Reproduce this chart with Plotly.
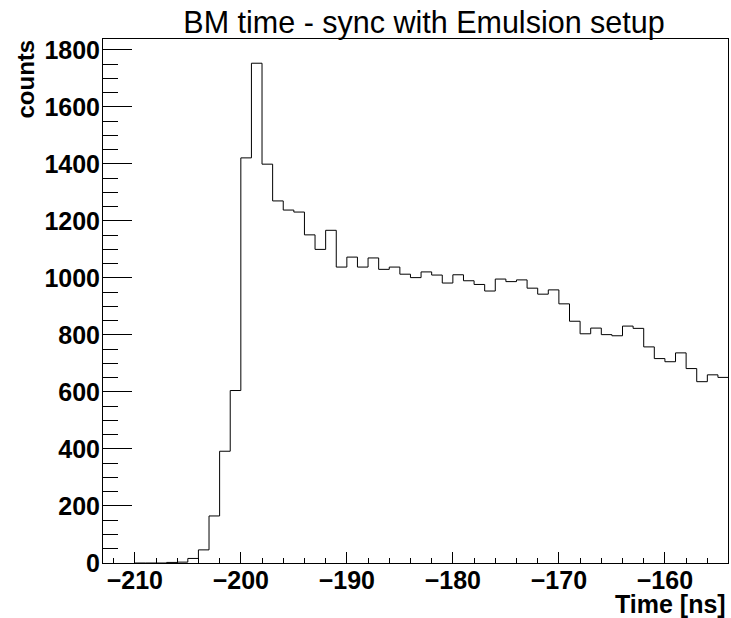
import plotly.graph_objects as go

# Histogram: bin lower edges (ns) and counts
bin_low_edges = list(range(-210, -154))  # -210 ... -155, width 1 ns
counts = [
    0, 0, 0, 2, 3, 16, 46, 165, 392, 605,
    1421, 1753, 1399, 1270, 1238, 1231, 1151, 1100, 1167, 1038,
    1073, 1038, 1070, 1030, 1038, 1013, 1001, 1021, 1010, 982,
    1011, 990, 977, 954, 996, 987, 993, 964, 943, 958,
    909, 848, 804, 824, 801, 797, 831, 823, 758, 717,
    706, 737, 682, 636, 660, 651,
]
bin_width = 1
title_text = "BM time - sync with Emulsion setup"
x_title = "Time [ns]"
y_title = "counts"

xs = bin_low_edges + [bin_low_edges[-1] + bin_width]
ys = counts + [counts[-1]]

fig = go.Figure()
fig.add_trace(go.Scatter(
    x=xs, y=ys, mode="lines", line=dict(shape="hv", color="black", width=1),
    showlegend=False, hoverinfo="skip",
))

bold_font = dict(family="Liberation Sans", size=25, color="black", weight="bold")

fig.update_layout(
    width=731, height=618,
    margin=dict(l=103, r=3, t=39, b=55),
    paper_bgcolor="white", plot_bgcolor="white",
    title=dict(text=title_text, x=424 / 731, xanchor="center",
               y=1 - 22 / 618, yanchor="middle", yref="container",
               font=dict(family="Liberation Sans", size=30.5, color="black")),
    xaxis=dict(range=[-213, -154.05], showgrid=False, zeroline=False,
               showline=True, mirror=True, linecolor="black", linewidth=1,
               ticks="inside", ticklen=11, tickcolor="black", dtick=10, tick0=0,
               minor=dict(dtick=2, ticks="inside", ticklen=5, tickcolor="black"),
               tickfont=bold_font, ticklabelstandoff=-5),
    yaxis=dict(range=[0, 1838], showgrid=False, zeroline=False,
               showline=True, mirror=True, linecolor="black", linewidth=1,
               ticks="inside", ticklen=29, tickcolor="black", dtick=200, tick0=0,
               minor=dict(dtick=50, ticks="inside", ticklen=15, tickcolor="black"),
               tickfont=bold_font, ticklabelstandoff=-3),
    annotations=[
        dict(text=x_title, xref="paper", yref="paper", x=1, y=0,
             xanchor="right", yanchor="middle", yshift=-41, showarrow=False,
             font=bold_font),
        dict(text=y_title, xref="paper", yref="paper", x=0, y=1,
             xanchor="center", yanchor="top", xshift=-78, yshift=1, textangle=-90,
             showarrow=False,
             font=dict(family="Liberation Sans", size=24, color="black", weight="bold")),
    ],
)

fig.write_html("out.html", config={"displayModeBar": False},
               post_script="document.body.style.margin='0';")
